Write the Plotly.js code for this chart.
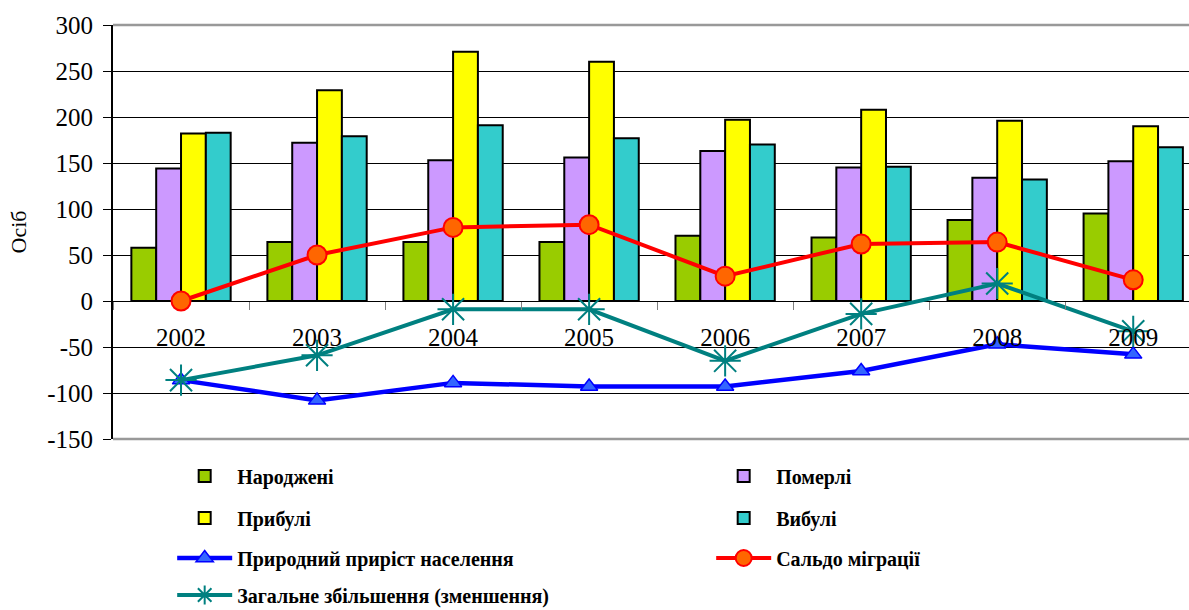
<!DOCTYPE html>
<html>
<head>
<meta charset="utf-8">
<script src="https://cdn.plot.ly/plotly-3.0.1.min.js"></script>
<style>html,body{margin:0;padding:0;background:#fff;}#chart{width:1189px;height:610px;}</style>
</head>
<body>
<div id="chart"></div>
<script>
const years = ['2002','2003','2004','2005','2006','2007','2008','2009'];
const born = [58, 64, 64, 64, 71, 69, 88, 95];
const died = [144, 172, 153, 156, 163, 145, 134, 152];
const arrived = [182, 229, 271, 260, 197, 208, 196, 190];
const departed = [183, 179, 191, 177, 170, 146, 132, 167];
const naturalGrowth = [-86, -108, -89, -93, -93, -76, -47, -58];
const migrationBalance = [0, 50, 80, 83, 27, 62, 64, 23];
const totalChange = [-86, -59, -9, -9, -65, -14, 19, -33];
const yTicks = [300, 250, 200, 150, 100, 50, 0, -50, -100, -150];

const serif = 'Liberation Serif, Times New Roman, serif';
const barLine = {color: '#000000', width: 2};

const traces = [
  {type: 'bar', name: 'Народжені', x: years, y: born, marker: {color: '#99CC00', line: barLine}, legend: 'legend'},
  {type: 'bar', name: 'Померлі', x: years, y: died, marker: {color: '#CC99FF', line: barLine}, legend: 'legend'},
  {type: 'bar', name: 'Прибулі', x: years, y: arrived, marker: {color: '#FFFF00', line: barLine}, legend: 'legend2'},
  {type: 'bar', name: 'Вибулі', x: years, y: departed, marker: {color: '#33CCCC', line: barLine}, legend: 'legend2'},
  {type: 'scatter', mode: 'lines+markers', name: 'Природний приріст населення', x: years, y: naturalGrowth,
   line: {color: '#0000FF', width: 4.5},
   marker: {symbol: 'triangle-up', size: 15, color: '#3366FF', line: {color: '#0000FF', width: 1.5}}, legend: 'legend3'},
  {type: 'scatter', mode: 'lines+markers', name: 'Сальдо міграції', x: years, y: migrationBalance,
   line: {color: '#FF0000', width: 4},
   marker: {symbol: 'circle', size: 19, color: '#FF6600', line: {color: '#FF0000', width: 2}}, legend: 'legend3'},
  {type: 'scatter', mode: 'lines+markers', name: 'Загальне збільшення (зменшення)', x: years, y: totalChange,
   line: {color: '#008080', width: 4},
   marker: {symbol: 'asterisk-open', size: 26, color: '#008080', line: {color: '#008080', width: 2}}, legend: 'legend4'}
];

const legendFont = {family: serif, size: 20, color: '#000000', weight: 'bold'};
function leg(y) {
  return {orientation: 'h', x: 0.055, xanchor: 'left', y: y, yanchor: 'middle',
          entrywidth: 469, entrywidthmode: 'pixels', itemwidth: 55,
          font: legendFont, bgcolor: 'rgba(0,0,0,0)', borderwidth: 0, traceorder: 'normal'};
}
// plot area: top 25, bottom 439 (height 414)
const py = v => (439 - v) / 414;

const layout = {
  width: 1189, height: 610,
  margin: {l: 113, r: 0, t: 25, b: 171, pad: 0, autoexpand: false},
  paper_bgcolor: '#ffffff', plot_bgcolor: '#ffffff',
  barmode: 'group', bargap: 0.27, bargroupgap: 0,
  showlegend: true,
  legend: leg(py(476)),
  legend2: leg(py(518)),
  legend3: leg(py(558)),
  legend4: leg(py(595)),
  xaxis: {
    type: 'category', range: [-0.5, 7.41], anchor: 'free', position: 1/3,
    showgrid: false, zeroline: false, showline: false,
    ticks: 'outside', tickson: 'boundaries', ticklen: 8, tickcolor: '#808080', tickwidth: 1,
    ticklabelstandoff: 19,
    tickfont: {family: serif, size: 25, color: '#000000'}
  },
  yaxis: {
    range: [-150, 300], tickvals: yTicks, ticktext: yTicks.map(String),
    showgrid: true, gridcolor: '#000000', gridwidth: 1, zeroline: false,
    showline: true, linecolor: '#000000', linewidth: 2,
    ticks: 'outside', ticklen: 8, tickcolor: '#000000', tickwidth: 1,
    ticklabelstandoff: 5,
    tickfont: {family: serif, size: 25, color: '#000000'},
    title: {text: 'Осіб', font: {family: serif, size: 22, color: '#000000'}, standoff: 14}
  },
  shapes: [
    {type: 'line', xref: 'paper', yref: 'paper', x0: 0, x1: 1, y0: 1, y1: 1, line: {color: '#999999', width: 2.5}, layer: 'above'},
    {type: 'line', xref: 'paper', yref: 'paper', x0: 0, x1: 1, y0: 0, y1: 0, line: {color: '#999999', width: 2.5}, layer: 'above'}
  ]
};

Plotly.newPlot('chart', traces, layout, {staticPlot: true, displayModeBar: false});
</script>
</body>
</html>
